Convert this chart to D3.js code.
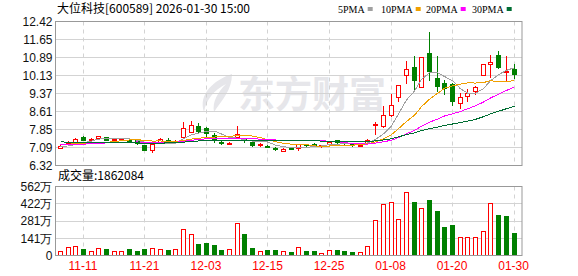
<!DOCTYPE html>
<html>
<head>
<meta charset="utf-8">
<script src="https://cdn.jsdelivr.net/npm/d3@7"></script>
<style>
  body { margin: 0; background: #fff; }
  svg { display: block; font-family: "Liberation Sans", Arial, sans-serif; }
</style>
</head>
<body>
<script>
// trading days shown
const dates = [
  '2025-11-06','2025-11-07','2025-11-10','2025-11-11','2025-11-12','2025-11-13','2025-11-14',
  '2025-11-17','2025-11-18','2025-11-19','2025-11-20','2025-11-21','2025-11-24','2025-11-25',
  '2025-11-26','2025-11-27','2025-11-28','2025-12-01','2025-12-02','2025-12-03','2025-12-04',
  '2025-12-05','2025-12-08','2025-12-09','2025-12-10','2025-12-11','2025-12-12','2025-12-15',
  '2025-12-16','2025-12-17','2025-12-18','2025-12-19','2025-12-22','2025-12-23','2025-12-24',
  '2025-12-25','2025-12-26','2025-12-29','2025-12-30','2025-12-31','2026-01-05','2026-01-06',
  '2026-01-07','2026-01-08','2026-01-09','2026-01-12','2026-01-13','2026-01-14','2026-01-15',
  '2026-01-16','2026-01-19','2026-01-20','2026-01-21','2026-01-22','2026-01-23','2026-01-26',
  '2026-01-27','2026-01-28','2026-01-29','2026-01-30'
];

const open = [
  7.08, 7.27, 7.32, 7.52, 7.39, 7.49, 7.51, 7.40, 7.39, 7.40,
  7.38, 7.17, 6.98, 7.33, 7.38, 7.31, 7.52, 7.75, 8.00, 7.90,
  7.63, 7.30, 7.22, 7.53, 7.46, 7.30, 7.19, 7.15, 7.08, 6.94,
  7.06, 7.07, 7.22, 7.25, 7.15, 7.21, 7.38, 7.30, 7.22, 7.17,
  7.28, 8.02, 7.98, 8.45, 9.21, 10.15, 10.48, 9.65, 11.09, 10.03,
  9.82, 9.78, 8.95, 9.26, 9.47, 10.15, 10.60, 11.02, 10.29, 10.39
];
const high = [
  7.17, 7.35, 7.47, 7.58, 7.47, 7.59, 7.52, 7.46, 7.47, 7.47,
  7.40, 7.18, 7.22, 7.47, 7.47, 7.42, 8.15, 8.20, 8.10, 7.93,
  7.68, 7.36, 7.30, 8.01, 7.48, 7.31, 7.26, 7.17, 7.09, 7.05,
  7.07, 7.22, 7.25, 7.26, 7.20, 7.33, 7.40, 7.31, 7.24, 7.24,
  7.44, 8.15, 8.83, 9.33, 9.74, 10.74, 10.95, 10.92, 11.98, 10.95,
  9.96, 9.80, 9.40, 9.54, 9.68, 10.60, 11.02, 11.19, 10.95, 10.63
];
const low = [
  7.06, 7.22, 7.31, 7.38, 7.37, 7.44, 7.39, 7.37, 7.38, 7.32,
  7.25, 6.97, 6.90, 7.32, 7.30, 7.27, 7.50, 7.72, 7.75, 7.56,
  7.31, 7.22, 7.21, 7.50, 7.33, 7.16, 7.15, 7.09, 6.98, 6.92,
  7.00, 6.98, 7.16, 7.13, 7.12, 7.20, 7.28, 7.24, 7.16, 7.13,
  7.27, 7.65, 7.95, 8.40, 9.04, 9.82, 9.47, 9.65, 9.93, 9.47,
  9.33, 8.87, 8.76, 9.07, 9.33, 10.15, 10.06, 10.45, 9.92, 10.03
];
const close = [
  7.16, 7.29, 7.46, 7.42, 7.44, 7.58, 7.40, 7.43, 7.45, 7.38,
  7.28, 6.98, 7.21, 7.43, 7.35, 7.37, 7.89, 8.04, 7.80, 7.70,
  7.46, 7.27, 7.29, 7.67, 7.38, 7.17, 7.24, 7.12, 7.00, 7.04,
  7.02, 7.21, 7.19, 7.14, 7.18, 7.32, 7.30, 7.26, 7.18, 7.20,
  7.42, 8.06, 8.45, 8.87, 9.72, 10.39, 9.93, 10.92, 10.31, 9.68,
  9.61, 9.04, 9.21, 9.40, 9.64, 10.60, 10.71, 10.48, 10.32, 10.20
];
// 成交量, 万股
const volume = [
  38, 71, 79, 57, 38, 63, 49, 33, 38, 49,
  33, 49, 63, 57, 44, 57, 218, 172, 90, 101,
  82, 41, 49, 267, 172, 65, 38, 41, 41, 33,
  25, 71, 38, 33, 22, 46, 41, 33, 25, 30,
  79, 292, 423, 439, 300, 521, 434, 390, 450, 360,
  229, 246, 153, 153, 153, 202, 431, 327, 319, 186.2084
];
// closes of the 29 sessions before 11-06 (only feed the moving averages)
const priorCloses = [
  7.62, 7.58, 7.55, 7.60, 7.52, 7.49, 7.55, 7.50, 7.48, 7.51,
  7.35, 7.28, 7.22, 7.18, 7.15, 7.12, 7.16, 7.20, 7.18, 7.16,
  7.25, 7.30, 7.36, 7.34, 7.30, 7.20, 7.14, 7.08, 7.07
];
const prevClose0 = 7.10;

const priceTicks = [6.32, 7.09, 7.85, 8.61, 9.37, 10.13, 10.89, 11.65, 12.42];
const volTicks = [0, 141, 281, 422, 562];
const labelDates = ['2025-11-11','2025-11-21','2025-12-03','2025-12-15','2025-12-25','2026-01-08','2026-01-20','2026-01-30'];
const maPeriods = [5, 10, 20, 30];
const maNames = ['5PMA', '10PMA', '20PMA', '30PMA'];
const maColors = ['#a0a0a0', '#f0a000', '#ff00ff', '#006e33'];

const width = 578, height = 276,
      left = 56, right = 522,
      priceTop = 21.5, priceBottom = 165.5,
      volTop = 186.5, volBottom = 255.5,
      red = '#ff0000', green = '#008000',
      gridColor = '#d3d3d3', frameColor = '#999';

const svg = d3.select('body').append('svg')
              .attr('width', width)
              .attr('height', height);

const x = d3.scaleBand().domain(dates).range([left, left + dates.length * 7.69]),
      y = d3.scaleLinear().domain([6.32, 12.42]).range([priceBottom, priceTop]),
      vy = d3.scaleLinear().domain([0, 562]).range([volBottom, volTop]);

const cx = (d) => Math.round(x(d) + x.bandwidth() / 2) + 0.5;
const snap = (v) => Math.round(v - 0.5) + 0.5;

const rows = dates.map((d, i) => ({
  date: d, o: open[i], h: high[i], l: low[i], c: close[i], v: volume[i],
  pc: i === 0 ? prevClose0 : close[i - 1]
}));

// moving averages
const allCloses = priorCloses.concat(close);
const maLines = maPeriods.map((n) =>
  close.map((c, i) => {
    const end = priorCloses.length + i + 1;
    return d3.mean(allCloses.slice(end - n, end));
  })
);

// watermark
const mark = svg.append('g').attr('fill', '#e6e6ea');
mark.append('path')
    .attr('d', 'M232,74 C214,80 198,94 204,112 C206,100 214,90 226,84 C218,92 212,102 214,112 C222,100 232,90 232,74 Z');
mark.append('text')
    .attr('x', 238).attr('y', 108)
    .attr('font-family', '"Noto Sans CJK SC", sans-serif')
    .attr('font-weight', 'bold')
    .attr('font-size', 37)
    .text('东方财富');

// horizontal grid
svg.append('g').selectAll('line')
   .data(priceTicks.slice(1, -1))
   .join('line')
   .attr('x1', left).attr('x2', right)
   .attr('y1', (d) => snap(y(d))).attr('y2', (d) => snap(y(d)))
   .attr('stroke', gridColor);

svg.append('g').selectAll('line')
   .data(volTicks.slice(1, -1))
   .join('line')
   .attr('x1', left).attr('x2', right)
   .attr('y1', (d) => snap(vy(d))).attr('y2', (d) => snap(vy(d)))
   .attr('stroke', gridColor);

// vertical dashed grid
[[priceTop, priceBottom], [volTop, volBottom]].forEach(([t, b]) => {
  svg.append('g').selectAll('line')
     .data(labelDates)
     .join('line')
     .attr('x1', cx).attr('x2', cx)
     .attr('y1', t).attr('y2', b)
     .attr('stroke', gridColor)
     .attr('stroke-dasharray', '4,4');
});

// candles
const candles = svg.append('g').attr('shape-rendering', 'crispEdges');
const up = (d) => d.c > d.o || (d.c === d.o && d.c >= d.pc);

candles.selectAll('line')
       .data(rows)
       .join('line')
       .attr('x1', (d) => cx(d.date)).attr('x2', (d) => cx(d.date))
       .attr('y1', (d) => Math.round(y(d.h))).attr('y2', (d) => Math.round(y(d.l)) + 1)
       .attr('stroke', (d) => up(d) ? red : green);

candles.selectAll('rect')
       .data(rows)
       .join('rect')
       .each(function(d) {
         const top = Math.round(y(Math.max(d.o, d.c))),
               bot = Math.round(y(Math.min(d.o, d.c))),
               r = d3.select(this);
         if (up(d)) {
           r.attr('x', cx(d.date) - 2).attr('y', top + 0.5)
            .attr('width', 4).attr('height', Math.max(bot - top, 1))
            .attr('fill', '#fff').attr('stroke', red);
         } else {
           r.attr('x', cx(d.date) - 2.5).attr('y', top)
            .attr('width', 5).attr('height', Math.max(bot - top, 1) + 1)
            .attr('fill', green);
         }
       });

// moving average lines
const line = d3.line()
               .x((d, i) => cx(dates[i]))
               .y((d) => y(d));

svg.append('g').selectAll('path')
   .data(maLines)
   .join('path')
   .attr('d', line)
   .attr('fill', 'none')
   .attr('stroke', (d, i) => maColors[i])
   .attr('stroke-width', 1)
   .attr('shape-rendering', 'crispEdges');

// volume bars
svg.append('g').attr('shape-rendering', 'crispEdges')
   .selectAll('rect')
   .data(rows)
   .join('rect')
   .each(function(d) {
     const top = Math.round(vy(d.v)),
           r = d3.select(this);
     if (d.c >= d.pc) {
       r.attr('x', cx(d.date) - 2).attr('y', top + 0.5)
        .attr('width', 4).attr('height', volBottom - 0.5 - top - 0.5)
        .attr('fill', '#fff').attr('stroke', red);
     } else {
       r.attr('x', cx(d.date) - 2.5).attr('y', top)
        .attr('width', 5).attr('height', volBottom - 0.5 - top)
        .attr('fill', green);
     }
   });

// frames
[[priceTop, priceBottom], [volTop, volBottom]].forEach(([t, b]) => {
  svg.append('rect')
     .attr('x', left - 0.5).attr('y', t)
     .attr('width', right - left + 0.5).attr('height', b - t)
     .attr('fill', 'none')
     .attr('stroke', frameColor);
});

// axes
const styleAxis = (g) => {
  g.attr('font-size', 12).attr('font-family', '"Liberation Sans", Arial, sans-serif');
  g.select('.domain').remove();
  g.selectAll('.tick line').remove();
};

svg.append('g')
   .attr('transform', 'translate(' + (left - 0.5) + ',0)')
   .call(d3.axisLeft(y).tickValues(priceTicks).tickSize(0).tickPadding(3).tickFormat(d3.format('.2f')))
   .call(styleAxis)
   .selectAll('text').attr('fill', '#111');

svg.append('g')
   .attr('transform', 'translate(' + (left - 0.5) + ',0)')
   .call(d3.axisLeft(vy).tickValues(volTicks).tickSize(0).tickPadding(3)
           .tickFormat((d) => d === 0 ? '0' : d + '万'))
   .call(styleAxis)
   .selectAll('text').attr('fill', '#111');

svg.append('g')
   .attr('transform', 'translate(0,' + volBottom + ')')
   .call(d3.axisBottom(x).tickValues(labelDates).tickSize(0).tickPadding(6)
           .tickFormat((d) => d.slice(5)))
   .call(styleAxis)
   .selectAll('text').attr('fill', red);

// header
svg.append('text')
   .attr('x', 57).attr('y', 13)
   .attr('font-size', 12)
   .attr('font-family', '"Noto Sans CJK SC", sans-serif')
   .text('大位科技[600589] 2026-01-30 15:00');

const legend = svg.append('g')
                  .attr('font-family', '"Liberation Serif", serif')
                  .attr('font-size', 10);
const legendX = [338, 381, 426, 472];
maNames.forEach((name, i) => {
  const t = legend.append('text')
                  .attr('x', legendX[i]).attr('y', 12.5)
                  .text(name);
  const w = t.node().getComputedTextLength();
  legend.append('rect')
        .attr('x', legendX[i] + w + 3).attr('y', 7)
        .attr('width', 5).attr('height', 4)
        .attr('fill', maColors[i]);
});

svg.append('text')
   .attr('x', 58).attr('y', 180)
   .attr('font-size', 12)
   .attr('font-family', '"Noto Sans CJK SC", sans-serif')
   .text('成交量:' + d3.format('d')(Math.round(volume[volume.length - 1] * 10000)));
</script>
</body>
</html>
